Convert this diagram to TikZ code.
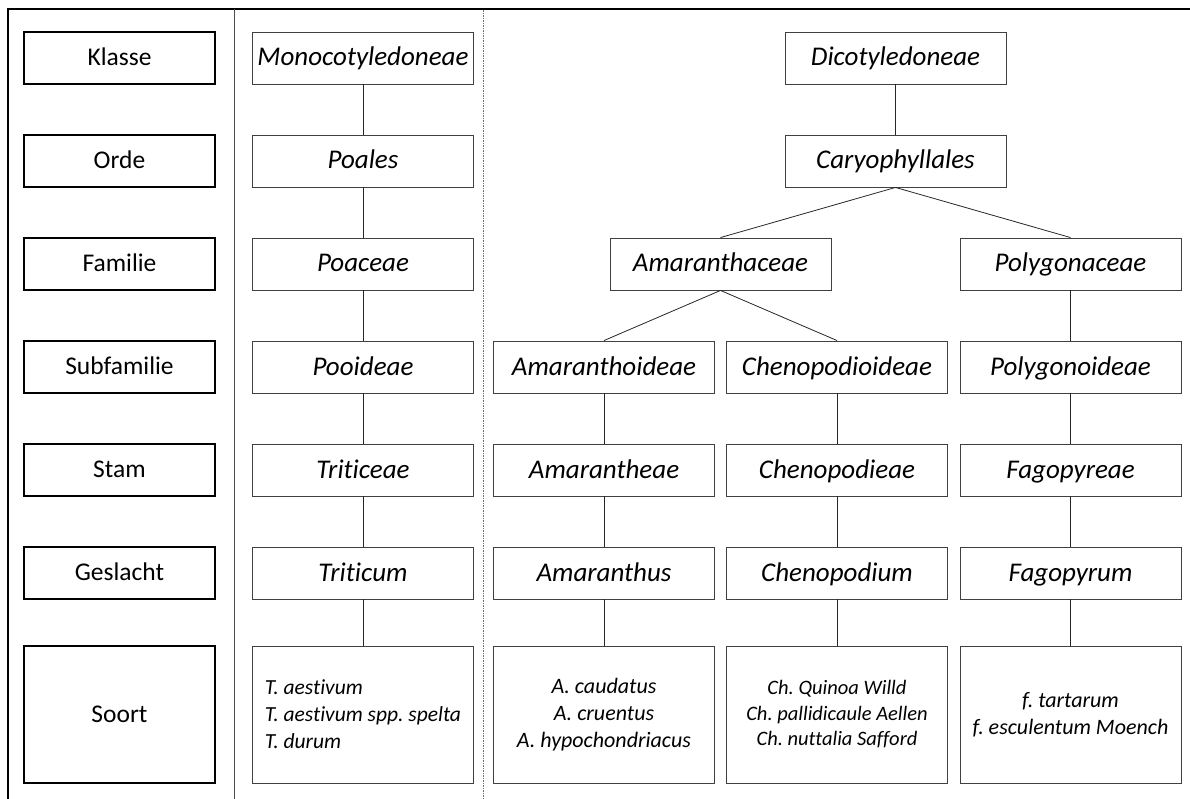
\documentclass[tikz,border=0pt]{standalone}
\usepackage{fontspec}
\setmainfont{Carlito}[Ligatures=NoCommon]
\usetikzlibrary{positioning}
\frenchspacing

\begin{document}
\begin{tikzpicture}[x=1pt,y=-1pt,node distance=103pt,on grid,
    rank/.style={draw=black,line width=1.6pt,minimum width=191pt,minimum height=52pt,
      inner sep=0pt,text height=19pt,text depth=4pt,font=\fontsize{25.5}{30}\selectfont},
    taxon/.style={draw=black!75,line width=0.9pt,minimum width=221pt,minimum height=52pt,
      inner sep=0pt,text height=20pt,text depth=4pt,font=\fontsize{27}{32}\selectfont\itshape},
    soort/.style={taxon,minimum height=137pt,align=center,text height=,text depth=,
      font=\fontsize{22}{27}\selectfont\itshape},
    every edge/.style={draw,black!85,line width=0.8pt}]
  \useasboundingbox (0,0) rectangle (1190,799);
  % frame and column separators
  \draw[line width=1.6pt] (8,799) -- (8,9) -- (1190,9);
  \draw[black!70,line width=0.8pt] (234.5,9) -- (234.5,799);
  \draw[black!55,line width=0.6pt,dash pattern=on 2pt off 1.2pt on 0.6pt off 1.2pt] (483.5,10) -- (483.5,799);

  % ranks
  \node[rank] (r_0) at (119.5,58) {Klasse};
  \node[rank] (r_1) [below=of r_0] {Orde};
  \node[rank] (r_2) [below=of r_1] {Familie};
  \node[rank] (r_3) [below=of r_2] {Subfamilie};
  \node[rank] (r_4) [below=of r_3] {Stam};
  \node[rank] (r_5) [below=of r_4] {Geslacht};
  \node[rank,minimum height=137pt] (r_6) [below=141.5pt of r_5] {Soort};

  % monocots
  \node[taxon] (m_0) [right=243.5pt of r_0] {Monocotyledoneae};
  \node[taxon] (m_1) [below=of m_0] {Poales};
  \node[taxon] (m_2) [below=of m_1] {Poaceae};
  \node[taxon] (m_3) [below=of m_2] {Pooideae};
  \node[taxon] (m_4) [below=of m_3] {Triticeae};
  \node[taxon] (m_5) [below=of m_4] {Triticum};
  \node[soort,align=left,font=\fontsize{21.5}{27}\selectfont\itshape] (m_6) [below=141.5pt of m_5]
    {T. aestivum\\T. aestivum spp. spelta\\T. durum};

  % dicots
  \node[taxon] (a_3) [right=241pt of m_3] {Amaranthoideae};
  \node[taxon] (c_3) [right=233pt of a_3] {Chenopodioideae};
  \node[taxon] (p_3) [right=233.5pt of c_3] {Polygonoideae};
  \node[taxon] (f_a) [above right=103pt and 116.5pt of a_3] {Amaranthaceae};
  \node[taxon] (p_2) [above=of p_3] {Polygonaceae};
  \node[taxon] (d_1) [above right=103pt and 175pt of f_a] {Caryophyllales};
  \node[taxon] (d_0) [above=of d_1] {Dicotyledoneae};
  \node[taxon] (a_4) [below=of a_3] {Amarantheae};
  \node[taxon] (c_4) [below=of c_3] {Chenopodieae};
  \node[taxon] (p_4) [below=of p_3] {Fagopyreae};
  \node[taxon] (a_5) [below=of a_4] {Amaranthus};
  \node[taxon] (c_5) [below=of c_4] {Chenopodium};
  \node[taxon] (p_5) [below=of p_4] {Fagopyrum};
  \node[soort] (a_6) [below=141.5pt of a_5] {A. caudatus\\A. cruentus\\A. hypochondriacus};
  \node[soort,font=\fontsize{20.5}{25.5}\selectfont\itshape] (c_6) [below=141.5pt of c_5]
    {Ch. Quinoa Willd\\Ch. pallidicaule Aellen\\Ch. nuttalia Safford};
  \node[soort] (p_6) [below=141.5pt of p_5] {f. tartarum\\f. esculentum Moench};

  \path
    (m_0) edge (m_1)
    (m_1) edge (m_2)
    (m_2) edge (m_3)
    (m_3) edge (m_4)
    (m_4) edge (m_5)
    (m_5) edge (m_6)
    (d_0) edge (d_1)
    (d_1.south) edge (f_a.north)
    (d_1.south) edge (p_2.north)
    (f_a.south) edge (a_3.north)
    (f_a.south) edge (c_3.north)
    (p_2) edge (p_3)
    (a_3) edge (a_4)
    (a_4) edge (a_5)
    (a_5) edge (a_6)
    (c_3) edge (c_4)
    (c_4) edge (c_5)
    (c_5) edge (c_6)
    (p_3) edge (p_4)
    (p_4) edge (p_5)
    (p_5) edge (p_6);
\end{tikzpicture}
\end{document}
